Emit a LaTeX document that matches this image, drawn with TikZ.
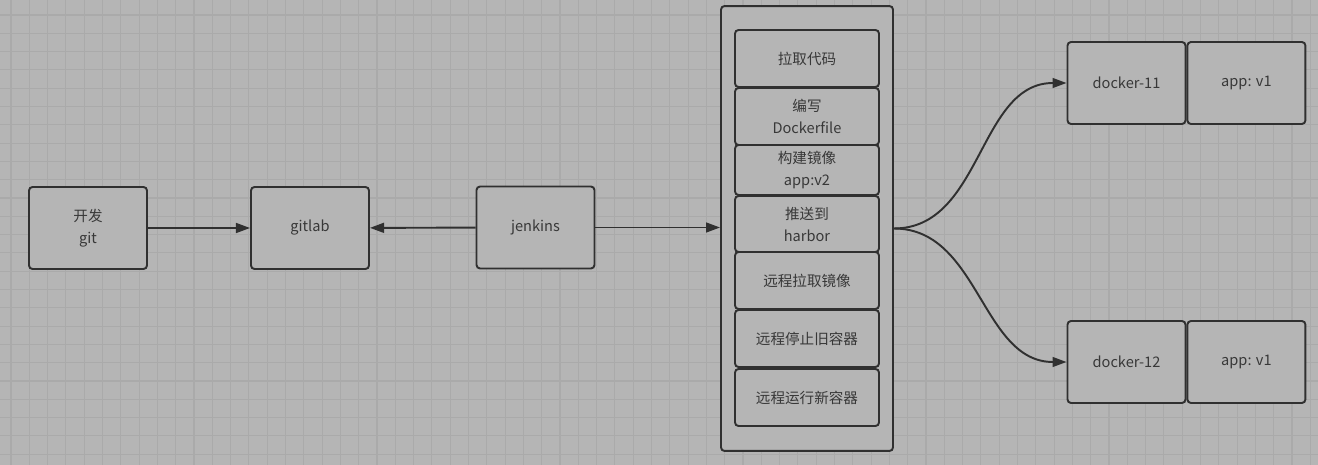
\documentclass[tikz,border=0pt]{standalone}
\usepackage{fontspec}
\setmainfont{Noto Sans CJK SC}
\usepackage{tikz}
\usetikzlibrary{arrows.meta,positioning}
\definecolor{fondogris}{rgb}{0.71,0.71,0.71}
\definecolor{rejilla}{rgb}{0.665,0.665,0.665}
\definecolor{trazo}{rgb}{0.19,0.19,0.19}
\definecolor{textogris}{rgb}{0.22,0.22,0.22}
\tikzset{
  caja/.style={
    rounded corners=2pt,
    draw=trazo,
    line width=1.1pt,
    fill=fondogris,
    align=center,
    minimum width=2.36cm,
    minimum height=1.64cm,
    inner sep=2pt,
    text=textogris,
    font=\fontsize{8.3}{12.5}\selectfont
  },
  etapa/.style={
    caja,
    minimum width=2.88cm,
    minimum height=1.14cm
  },
  arrow/.style={
    -{Triangle[length=8pt,width=5.6pt]},
    line width=1.1pt,
    trazo
  }
}

\begin{document}
\begin{tikzpicture}[x=0.02cm,y=-0.02cm]
\useasboundingbox (0,0) rectangle (1318,465);
\fill[fondogris] (0,0) rectangle (1318,465);
% rejilla de fondo
\foreach \i in {0,...,71}
  \draw[rejilla,line width=0.6pt] ({11+18.3*\i},0) -- ({11+18.3*\i},465);
\foreach \j in {0,...,24}
  \draw[rejilla,line width=0.6pt] (0,{15+18.3*\j}) -- (1318,{15+18.3*\j});

\node[caja] (git) at (88,228) {开发\\git};
\node[caja] (gitlab) at (310,228) {gitlab};
\node[caja] (jenkins) at (535.5,227.5) {jenkins};

% pipeline
\node[caja,minimum width=3.44cm,minimum height=8.9cm] (pipeline) at (807,228.5) {};
\node[etapa] (p1) at (807,58.5) {拉取代码};
\node[etapa] (p2) at (807,116.5) {编写\\Dockerfile};
\node[etapa,minimum height=1.0cm] (p3) at (807,170) {构建镜像\\app:v2};
\node[etapa,minimum height=1.12cm] (p4) at (807,224) {推送到\\harbor};
\node[etapa] (p5) at (807,280.5) {远程拉取镜像};
\node[etapa] (p6) at (807,338.5) {远程停止旧容器};
\node[etapa] (p7) at (807,397.5) {远程运行新容器};

% servidores
\node[caja] (d11) at (1126.5,83) {docker-11};
\node[caja,right=0pt of d11] (app11) {app: v1};
\node[caja] (d12) at (1126.5,362) {docker-12};
\node[caja,right=0pt of d12] (app12) {app: v1};

\draw[arrow] (git) -- (gitlab);
\draw[arrow] (jenkins) -- (gitlab);
\draw[arrow] (jenkins.east) -- (jenkins.east -| pipeline.west);
\draw[arrow] (pipeline.east) to[out=0,in=180] (d11.west);
\draw[arrow] (pipeline.east) to[out=0,in=180] (d12.west);
\end{tikzpicture}
\end{document}
